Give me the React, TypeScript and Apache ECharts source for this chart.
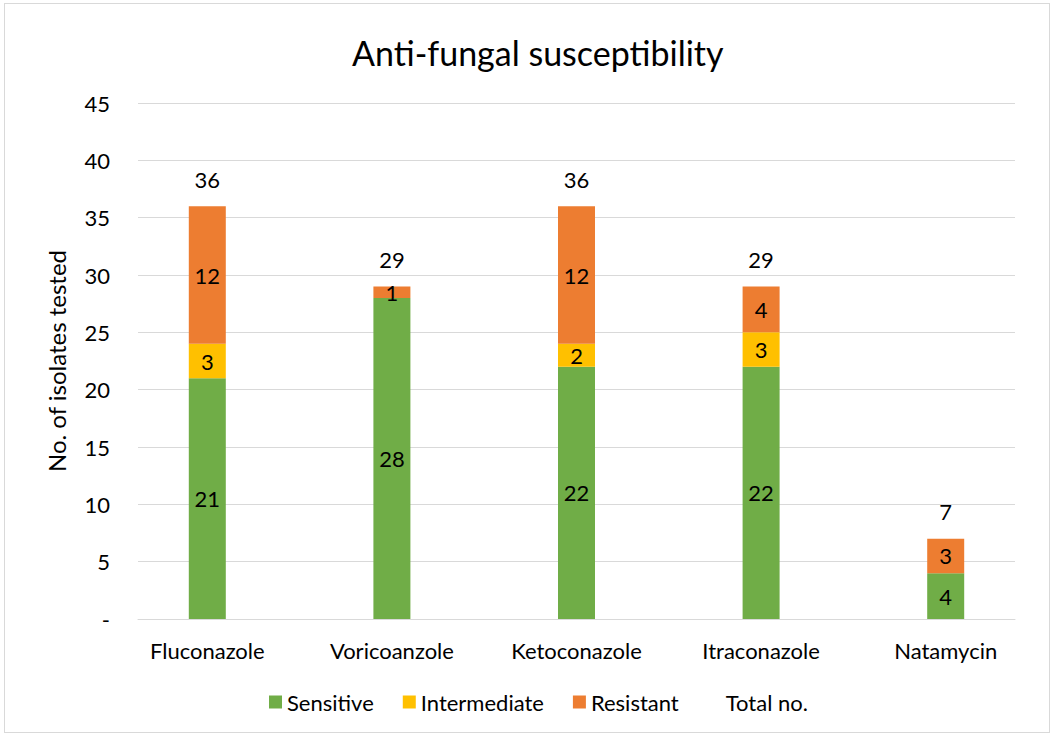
import React, { useEffect, useRef } from "react";
import * as echarts from "echarts";

const categories = ["Fluconazole", "Voricoanzole", "Ketoconazole", "Itraconazole", "Natamycin"];
const sensitive = [21, 28, 22, 22, 4];
const intermediate = [3, 0, 2, 3, 0];
const resistant = [12, 1, 12, 4, 3];
const totals = [36, 29, 36, 29, 7];
const yTicks = [0, 5, 10, 15, 20, 25, 30, 35, 40, 45];

const FONT = "Lato, 'Liberation Sans', sans-serif";
const FS = 22;

export default function App() {
  const ref = useRef<HTMLDivElement>(null);
  useEffect(() => {
    document.body.style.margin = "0";
    const chart = echarts.init(ref.current!, null, { renderer: "svg" });
    const segLabel = {
      show: true,
      position: "inside",
      color: "#000",
      fontSize: FS,
      fontFamily: FONT,
      formatter: (p: any) => (p.value ? String(p.value) : ""),
    };
    const yMin = yTicks[0];
    const yMax = yTicks[yTicks.length - 1];
    chart.setOption({
      animation: false,
      textStyle: { fontFamily: FONT },
      title: {
        text: "Anti-fungal susceptibility",
        left: 342,
        top: 26,
        textStyle: { fontSize: 34, fontWeight: "normal", color: "#000", fontFamily: FONT },
      },
      legend: {
        bottom: 14,
        left: 259,
        itemWidth: 13,
        itemHeight: 13,
        itemGap: 29,
        icon: "rect",
        textStyle: { fontSize: FS, color: "#000", fontFamily: FONT },
        data: ["Sensitive", "Intermediate", "Resistant", "Total no."],
      },
      grid: [
        { left: 110, right: 11, top: 99, bottom: 113, containLabel: false },
        { left: 133, right: 34, top: 99, bottom: 113, containLabel: false },
      ],
      xAxis: [
        {
          type: "category",
          gridIndex: 0,
          data: categories,
          axisTick: { show: false },
          axisLine: { show: false },
          axisLabel: { fontSize: FS, color: "#000", margin: 20, fontFamily: FONT },
        },
        {
          type: "category",
          gridIndex: 1,
          data: categories,
          axisTick: { show: false },
          axisLabel: { show: false },
          axisLine: { show: true, lineStyle: { color: "#d9d9d9" } },
        },
      ],
      yAxis: [
        {
          type: "value",
          gridIndex: 0,
          min: yMin,
          max: yMax,
          interval: 5,
          show: false,
          splitLine: { show: false },
        },
        {
          type: "value",
          gridIndex: 1,
          min: yMin,
          max: yMax,
          interval: 5,
          name: "No. of isolates tested",
          nameLocation: "middle",
          nameGap: 70,
          nameTextStyle: { fontSize: 24, color: "#000", fontFamily: FONT },
          axisLabel: {
            fontSize: FS,
            color: "#000",
            margin: 28,
            fontFamily: FONT,
            formatter: (v: number) => (v === 0 ? "-" : String(v)),
          },
          splitLine: { lineStyle: { color: "#d9d9d9", width: 1 } },
          axisLine: { show: false },
          axisTick: { show: false },
        },
      ],
      series: [
        {
          name: "Sensitive",
          type: "bar",
          stack: "a",
          barWidth: 37,
          data: sensitive,
          itemStyle: { color: "#70AD47" },
          label: segLabel,
          z: 3,
        },
        {
          name: "Intermediate",
          type: "bar",
          stack: "a",
          data: intermediate,
          itemStyle: { color: "#FFC000" },
          label: segLabel,
          z: 3,
        },
        {
          name: "Resistant",
          type: "bar",
          stack: "a",
          data: resistant,
          itemStyle: { color: "#ED7D31" },
          label: segLabel,
          z: 3,
        },
        {
          name: "Total no.",
          type: "bar",
          barGap: "-100%",
          barWidth: 37,
          data: totals,
          itemStyle: { color: "rgba(0,0,0,0)" },
          label: {
            show: true,
            position: "top",
            distance: 16,
            color: "#000",
            fontSize: FS,
            fontFamily: FONT,
          },
          z: 1,
        },
      ],
    });
    return () => chart.dispose();
  }, []);
  return (
    <div
      ref={ref}
      style={{
        width: 1046,
        height: 730,
        margin: "3px 0 0 4px",
        border: "1px solid #d9d9d9",
        boxSizing: "border-box",
        background: "#fff",
      }}
    />
  );
}
